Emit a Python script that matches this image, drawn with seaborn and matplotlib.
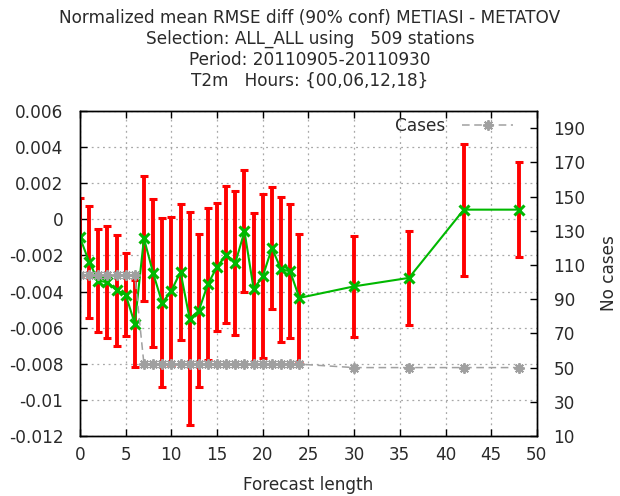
import matplotlib
matplotlib.use("Agg")
import matplotlib.pyplot as plt
import numpy as np
import pandas as pd
import seaborn as sns

# Forecast lead times (hours)
lead_hours = [0, 1, 2, 3, 4, 5, 6, 7, 8, 9, 10, 11, 12, 13, 14, 15, 16, 17, 18,
              19, 20, 21, 22, 23, 24, 30, 36, 42, 48]

# Normalized mean RMSE difference (METIASI - METATOV), units of 1e-3
mean_diff_e3 = [-1.00, -2.36, -3.39, -3.49, -3.93, -4.17, -5.78, -1.05, -2.97,
                -4.63, -3.95, -2.91, -5.50, -5.06, -3.58, -2.63, -1.95, -2.41,
                -0.66, -3.85, -3.16, -1.59, -2.76, -2.88, -4.35, -3.71, -3.24,
                0.54, 0.54]

# 90% confidence half-width, units of 1e-3
conf90_e3 = [2.20, 3.08, 2.86, 3.10, 3.07, 2.31, 2.42, 3.48, 4.08, 4.68, 4.10,
             3.77, 5.89, 4.25, 4.19, 3.55, 3.80, 3.99, 3.38, 4.18, 4.54, 3.38,
             4.01, 3.71, 3.55, 2.80, 2.61, 3.65, 2.64]

# Number of cases per lead time
n_cases = [104, 104, 104, 104, 104, 104, 104, 52, 52, 52, 52, 52, 52, 52, 52,
           52, 52, 52, 52, 52, 52, 52, 52, 52, 52, 50, 50, 50, 50]

x_ticks = [0, 5, 10, 15, 20, 25, 30, 35, 40, 45, 50]
y_ticks = [0.006, 0.004, 0.002, 0, -0.002, -0.004, -0.006, -0.008, -0.01, -0.012]
y_tick_labels = ["0.006", "0.004", "0.002", "0", "-0.002", "-0.004", "-0.006",
                 "-0.008", "-0.01", "-0.012"]
y2_ticks = [10, 30, 50, 70, 90, 110, 130, 150, 170, 190]

title_lines = [
    "Normalized mean RMSE diff (90% conf) METIASI - METATOV",
    "Selection: ALL_ALL using   509 stations",
    "Period: 20110905-20110930",
    "T2m   Hours: {00,06,12,18}",
]

sns.set_style("ticks")
plt.rcParams["font.family"] = ["DejaVu Sans"]
plt.rcParams["axes.unicode_minus"] = False
FS = 12.2
TXT = "#2a2a2a"

df = pd.DataFrame({
    "lead": lead_hours,
    "diff": np.array(mean_diff_e3) * 1e-3,
    "conf": np.array(conf90_e3) * 1e-3,
    "cases": n_cases,
})

fig = plt.figure(figsize=(6.2, 4.96), dpi=100)
ax = fig.add_axes([0.129, 0.121, 0.737, 0.655])

# confidence intervals
ax.errorbar(df["lead"], df["diff"], yerr=df["conf"], fmt="none",
            ecolor="#ff0000", elinewidth=2.8, capsize=3, capthick=2.2, zorder=2)
# mean difference
sns.lineplot(data=df, x="lead", y="diff", ax=ax, color="#00b800",
             linewidth=1.5, marker="x", markersize=6.5, markeredgewidth=2.2,
             markeredgecolor="#00b800", zorder=3)

ax.set_xlim(0, 50)
ax.set_ylim(-0.012, 0.006)
ax.set_xticks(x_ticks)
ax.set_xticklabels([str(t) for t in x_ticks])
ax.set_yticks(y_ticks)
ax.set_yticklabels(y_tick_labels)
ax.grid(True, linestyle=(0, (1.5, 3)), color="#a8a8a8", linewidth=0.9)
ax.tick_params(direction="in", length=5, width=1, top=True, right=True,
               labelsize=FS, labelcolor=TXT, color="black")
ax.tick_params(axis="y", pad=12)
ax.tick_params(axis="x", pad=7)
ax.set_xlabel("Forecast length", fontsize=FS, color=TXT, labelpad=9)
ax.set_ylabel("")
for s in ax.spines.values():
    s.set_color("black")
    s.set_linewidth(1)

# number of cases on the secondary axis
ax2 = ax.twinx()
sns.lineplot(data=df, x="lead", y="cases", ax=ax2, color="#a0a0a0",
             linewidth=1.1, linestyle=(0, (5, 3)), marker=(8, 2, 0),
             markersize=7.5, markeredgewidth=1.4, markeredgecolor="#a0a0a0",
             label="Cases")
ax2.set_ylim(10, 200)
ax2.set_yticks(y2_ticks)
ax2.set_yticklabels([str(t) for t in y2_ticks])
ax2.tick_params(direction="in", length=5, width=1, labelsize=FS,
                labelcolor=TXT, color="black", pad=12)
ax2.set_ylabel("No cases", fontsize=FS, color=TXT, labelpad=10)
ax2.set_xlim(0, 50)
for s in ax2.spines.values():
    s.set_color("black")
    s.set_linewidth(1)

leg = ax2.legend(loc="upper right", bbox_to_anchor=(0.963, 1.003),
                 frameon=False, markerfirst=False, handlelength=3.0,
                 handletextpad=1.0, borderaxespad=0, fontsize=FS,
                 labelcolor=TXT)

fig.text(0.5, 1 - 9 / 496, "\n".join(title_lines), ha="center", va="top",
         fontsize=FS, color=TXT, linespacing=1.2)

fig.savefig("out.png", dpi=100)
